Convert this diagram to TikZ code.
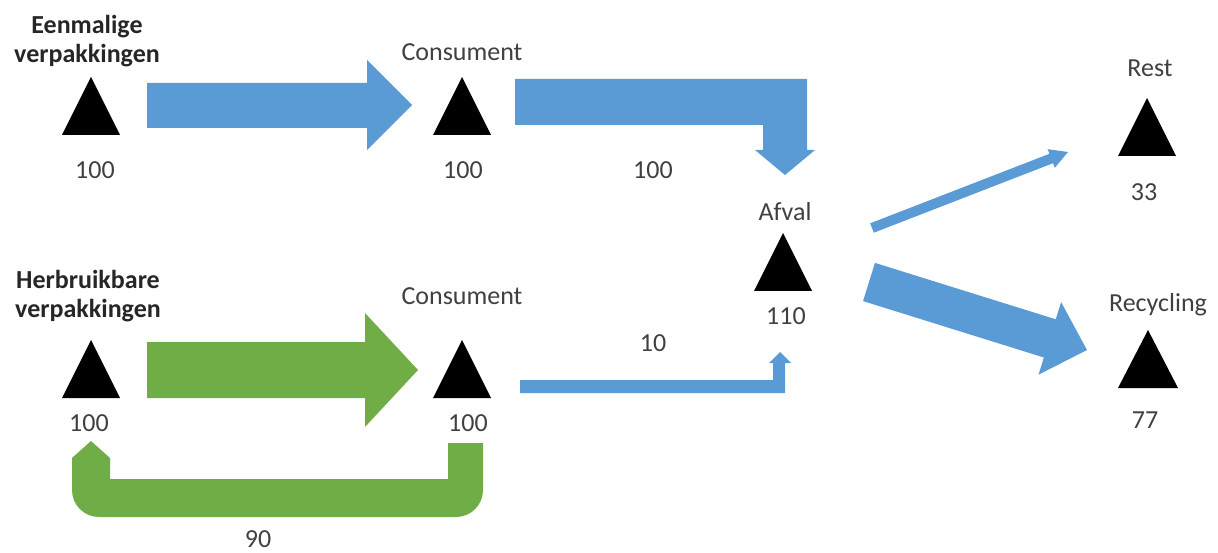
\documentclass[tikz,border=0pt]{standalone}
\usepackage{fontspec}
\setmainfont{Carlito}
\definecolor{flowblue}{HTML}{5B9BD5}
\definecolor{flowgreen}{HTML}{70AD47}
\definecolor{txt}{HTML}{404040}
\definecolor{txtb}{HTML}{262626}
\newcommand\tripoint[3]{\fill[black] (#1-#3,#2+58) -- (#1,#2) -- (#1+#3,#2+58) -- cycle;}
\begin{document}
\begin{tikzpicture}[x=1pt,y=-1pt,
  lbl/.style={font=\fontsize{26}{29}\selectfont, text=txt, inner sep=0pt, text height=17pt, text depth=0pt},
  head/.style={font=\fontsize{26}{29}\selectfont\bfseries, text=txtb, inner sep=0pt, align=center},
  blueflow/.style={fill=flowblue},
  greenflow/.style={fill=flowgreen}]
\useasboundingbox (0,0) rectangle (1218,553);
% triangles (stocks)
\tripoint{91}{77}{29}
\tripoint{462}{77}{29}
\tripoint{783}{233}{29}
\tripoint{1147}{98}{29}
\tripoint{1148}{330}{30}
\tripoint{91}{340}{29}
\tripoint{462}{340}{29}
% labels
\node[head] (eenm) at (87,41) {Eenmalige\\verpakkingen};
\node[head] (herb) at (88,296) {Herbruikbare\\verpakkingen};
\node[lbl] (c1) at (462,52) {Consument};
\node[lbl] (c2) at (462,296) {Consument};
\node[lbl] (afval) at (785,212) {Afval};
\node[lbl] (rest) at (1150,68) {Rest};
\node[lbl] (recy) at (1158,303) {Recycling};
\node[lbl] (n1) at (95,170) {100};
\node[lbl] (n2) at (463,170) {100};
\node[lbl] (n3) at (653,170) {100};
\node[lbl] (n4) at (786,316) {110};
\node[lbl] (n5) at (653,343) {10};
\node[lbl] (n6) at (1144,192) {33};
\node[lbl] (n7) at (1145,420) {77};
\node[lbl] (n8) at (89,423) {100};
\node[lbl] (n9) at (468,423) {100};
\node[lbl] (n10) at (258,539) {90};
% block arrows
\fill[blueflow] (147,83) -- (367,83) -- (367,60) -- (412,105) -- (367,150) -- (367,128) -- (147,128) -- cycle;
\fill[blueflow] (515,79) -- (807,79) -- (807,150) -- (815,150) -- (785,175) -- (755,150) -- (763,150) -- (763,125) -- (515,125) -- cycle;
\fill[blueflow] (873.8,232.7) -- (870.2,223.3) -- (1049.4,153.8) -- (1047.6,149.2) -- (1068,152) -- (1054.8,167.8) -- (1053,163.2) -- cycle;
\fill[blueflow] (874.95,262.9) -- (1055.75,319.3) -- (1061.1,302.1) -- (1087,350) -- (1038.5,374.7) -- (1043.85,357.5) -- (863.05,301.1) -- cycle;
\fill[greenflow] (147,342) -- (365,342) -- (365,313) -- (418,370) -- (365,427) -- (365,398) -- (147,398) -- cycle;
\fill[blueflow] (520,380) -- (773,380) -- (773,363) -- (769,363) -- (780,352) -- (791,363) -- (785,363) -- (785,393) -- (520,393) -- cycle;
\fill[greenflow] (448,443) -- (483,443) -- (483,490) .. controls (483,505) and (471,517) .. (456,517) -- (99,517) .. controls (84,517) and (72,505) .. (72,490) -- (72,458) -- (91,441) -- (110,458) -- (110,479) -- (448,479) -- cycle;
\end{tikzpicture}
\end{document}
